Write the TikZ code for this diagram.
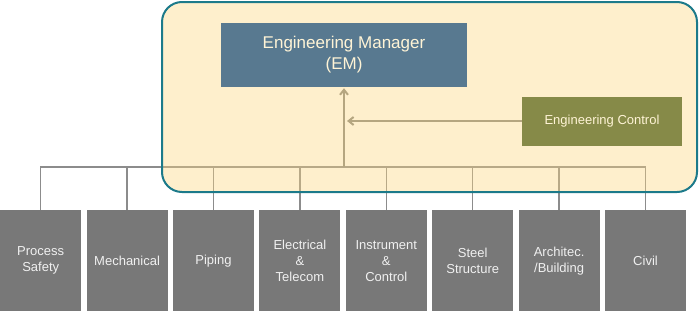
\documentclass[tikz,border=0pt]{standalone}
\usepackage{fontspec}
\setmainfont{Liberation Sans}
\usetikzlibrary{arrows.meta, positioning}

\definecolor{emblue}{RGB}{88,121,144}
\definecolor{ecolive}{RGB}{134,138,72}
\definecolor{deptgray}{RGB}{120,120,120}
\definecolor{frameteal}{RGB}{28,122,138}
\definecolor{framecream}{RGB}{252,214,128}
\definecolor{linkgray}{RGB}{140,140,140}
\definecolor{arrowtan}{RGB}{181,166,128}
\definecolor{textcream}{RGB}{255,244,214}

\begin{document}
\begin{tikzpicture}[x=1pt, y=-1pt, node distance=5pt,
    dept/.style={rectangle, fill=deptgray, minimum width=81pt, minimum height=101pt,
                 inner sep=0pt, text=white!94!black, align=center,
                 font=\fontsize{13}{16}\selectfont},
    head/.style={rectangle, fill=emblue, minimum width=246pt, minimum height=64pt,
                 inner sep=0pt, text=textcream, align=center,
                 font=\fontsize{17}{21}\selectfont},
    ctrl/.style={rectangle, fill=ecolive, minimum width=160pt, minimum height=49pt,
                 inner sep=0pt, text=textcream, font=\fontsize{13}{15}\selectfont},
    frame/.style={draw=frameteal, line width=2pt, fill=framecream, fill opacity=0.4,
                  draw opacity=1, rounded corners=20pt},
    link/.style={draw=linkgray, line width=1.3pt},
    flow/.style={draw=arrowtan, line width=2pt, -{Straight Barb[length=5pt, width=8pt]}}]

\useasboundingbox (0,0) rectangle (700,311);

% departments
\node[dept, anchor=north west] (ps) at (0,210) {Process\\Safety};
\node[dept, right=of ps] (mech) {Mechanical};
\node[dept, right=of mech] (pip) {Piping};
\node[dept, right=of pip] (ele) {Electrical\\\&\\Telecom};
\node[dept, right=of ele] (ins) {Instrument\\\&\\Control};
\node[dept, right=of ins] (ste) {Steel\\Structure};
\node[dept, right=of ste] (arc) {Architec.\\/Building};
\node[dept, right=of arc] (civ) {Civil};

% bus
\coordinate (bus) at (344,167);
\draw[link] (ps.north) |- (bus) -| (civ.north);
\foreach \d in {mech,pip,ele,ins,ste,arc}
  \draw[link] (\d.north) -- (\d.north |- bus);

% engineering frame
\draw[frame] (162,2) rectangle (697,192);

\node[head] (em) at (344,55) {Engineering Manager\\(EM)};
\node[ctrl] (ec) at (602,121) {Engineering Control};

\draw[flow, shorten >=1pt] (bus) -- (em.south);
\draw[flow] (ec.west) -- ([xshift=3pt]em.south |- ec.west);
\end{tikzpicture}
\end{document}
